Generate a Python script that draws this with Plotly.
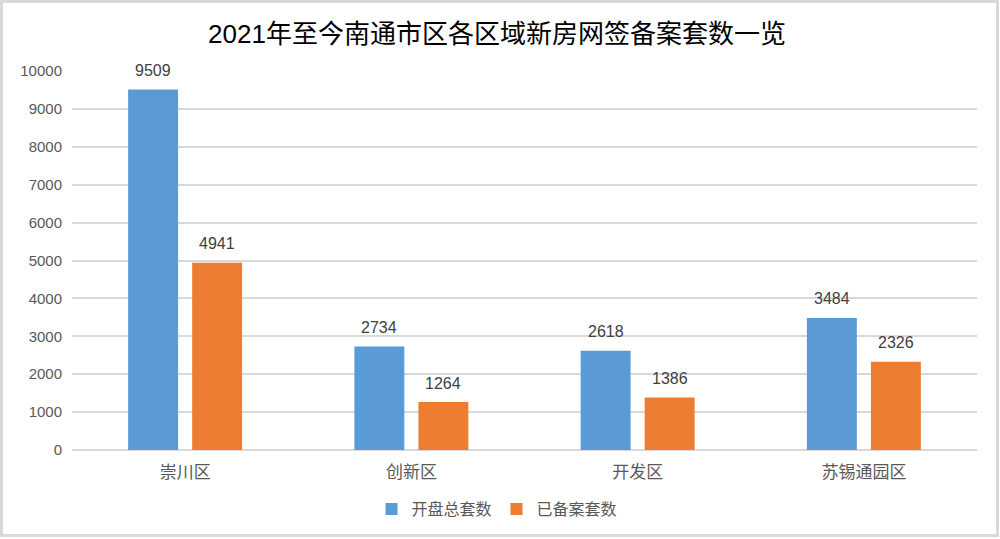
import plotly.graph_objects as go

categories = ["崇川区", "创新区", "开发区", "苏锡通园区"]
total_units = [9509, 2734, 2618, 3484]
filed_units = [4941, 1264, 1386, 2326]
series_names = ["开盘总套数", "已备案套数"]
colors = ["#5B9BD5", "#ED7D31"]
yticks = list(range(0, 10001, 1000))

W, H = 1000, 539
ml, mr, mt, mb = 72, 23, 71, 89
pw, ph = W - ml - mr, H - mt - mb

fig = go.Figure()
for name, vals, col in zip(series_names, [total_units, filed_units], colors):
    fig.add_trace(go.Bar(x=categories, y=vals, name=name, marker_color=col,
                         marker_line_width=0))

font = "Liberation Sans, Noto Sans CJK SC, sans-serif"
ann = []
for vals, sh in [(total_units, -32), (filed_units, 32)]:
    for c, v in zip(categories, vals):
        ann.append(dict(x=c, y=v, text=str(v), showarrow=False, xshift=sh,
                        yshift=19, font=dict(size=16, color="#404040", family=font)))

fig.update_layout(
    width=W, height=H,
    margin=dict(l=ml, r=mr, t=mt, b=mb, autoexpand=False),
    paper_bgcolor="white", plot_bgcolor="white",
    title=dict(text="2021年至今南通市区各区域新房网签备案套数一览", x=0.497, xref="container",
               xanchor="center", y=1 - 34 / H, yanchor="middle",
               font=dict(size=26, color="black", family=font)),
    bargap=0.434, bargroupgap=0.22,
    xaxis=dict(showgrid=False, showline=False, ticks="", ticklabelstandoff=10,
               automargin=False,
               tickfont=dict(size=17, color="#595959", family=font)),
    yaxis=dict(range=[0, 10000], tickvals=yticks, ticktext=[str(t) for t in yticks],
               showgrid=True, gridcolor="#D9D9D9", automargin=False,
               gridwidth=1.5, zeroline=True, zerolinecolor="#D9D9D9", zerolinewidth=1.5,
               tickfont=dict(size=15, color="#595959", family=font), ticklabelstandoff=9),
    legend=dict(orientation="h", x=0.497, xref="container", xanchor="center",
                y=1 - 509 / H, yref="container", yanchor="middle",
                font=dict(size=16, color="#595959", family=font), itemwidth=30,
                traceorder="normal"),
    annotations=ann,
    shapes=[dict(type="rect", xref="paper", yref="paper",
                 x0=(1.5 - ml) / pw, x1=(997.5 - ml) / pw,
                 y0=(H - mb - 535.5) / ph, y1=(H - mb - 1.5) / ph,
                 line=dict(color="#D9D9D9", width=3), layer="below")],
)

fig.write_html("out.html")
